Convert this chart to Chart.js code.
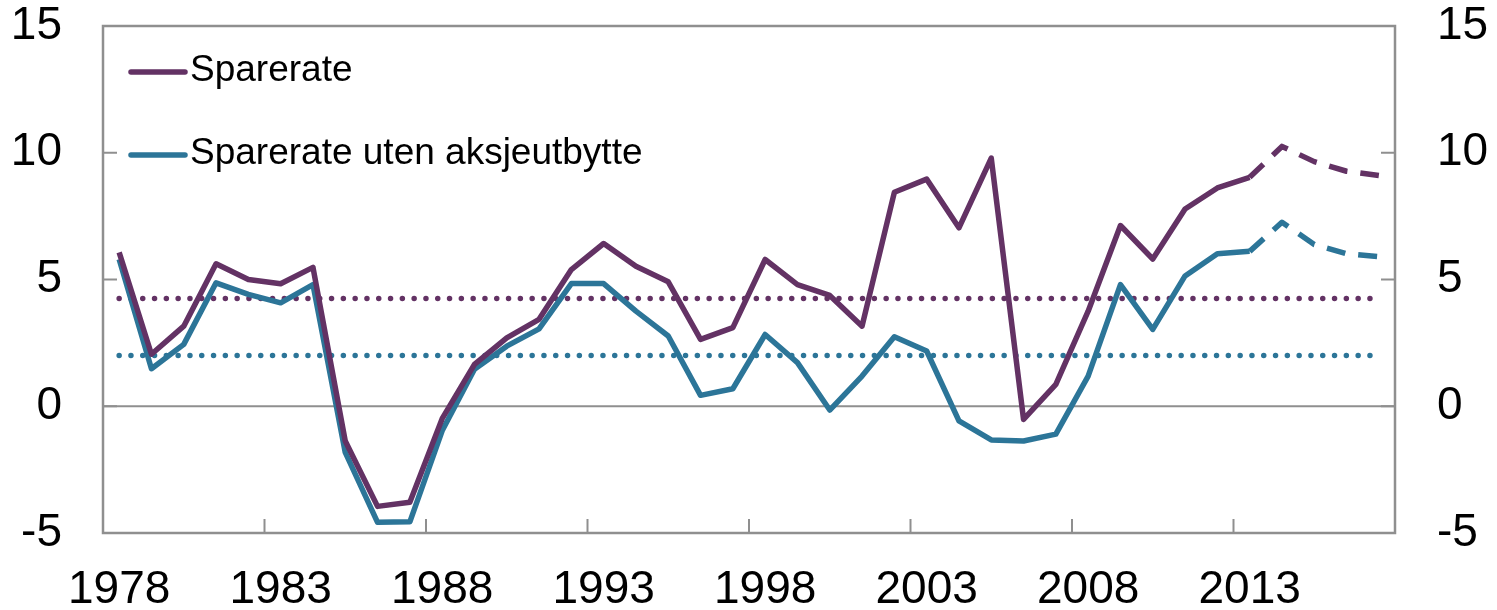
<!DOCTYPE html>
<html lang="no">
<head>
<meta charset="UTF-8">
<title>Sparerate</title>
<script src="https://cdn.jsdelivr.net/npm/chart.js@4.4.1/dist/chart.umd.min.js"></script>
<style>
  body { margin: 0; background: #fff; }
  #wrap { width: 1497px; height: 610px; position: relative; }
</style>
</head>
<body>
<div id="wrap"><canvas id="grafica"></canvas></div>
<script>
// Years on the x axis (2014-2017 are projections, drawn dashed)
const years = ["1978","1979","1980","1981","1982","1983","1984","1985","1986","1987",
  "1988","1989","1990","1991","1992","1993","1994","1995","1996","1997",
  "1998","1999","2000","2001","2002","2003","2004","2005","2006","2007",
  "2008","2009","2010","2011","2012","2013","2014","2015","2016","2017"];

// Saving rate, percent
const sparerate = [6.07, 2.05, 3.16, 5.62, 5.0, 4.83, 5.48, -1.37, -3.95, -3.79,
  -0.49, 1.65, 2.7, 3.43, 5.39, 6.42, 5.52, 4.91, 2.64, 3.1,
  5.79, 4.8, 4.37, 3.16, 8.44, 8.96, 7.04, 9.79, -0.52, 0.86,
  3.75, 7.13, 5.81, 7.78, 8.61, 9.03, 10.25, 9.65, 9.27, 9.1];

// Saving rate excluding share dividends, percent
const utenUtbytte = [5.8, 1.48, 2.44, 4.87, 4.41, 4.08, 4.8, -1.82, -4.58, -4.56,
  -0.97, 1.46, 2.37, 3.05, 4.84, 4.84, 3.75, 2.77, 0.43, 0.69,
  2.83, 1.72, -0.15, 1.19, 2.74, 2.18, -0.58, -1.33, -1.37, -1.1,
  1.19, 4.8, 3.03, 5.14, 6.02, 6.11, 7.26, 6.38, 6.02, 5.9];

// Long-run averages (dotted lines)
const snittSparerate = 4.25;
const snittUten = 2.0;

const yTicks = [-5, 0, 5, 10, 15];
const seriesNames = ["Sparerate", "Sparerate uten aksjeutbytte"];

const lilla = '#633264';
const blaa = '#2c7598';
const grå = '#8f8f8f';
const prognoseFra = years.indexOf("2013"); // dashed from here on
const font = "'Liberation Sans', Arial, sans-serif";

const prognose = ctx => ctx.p0DataIndex >= prognoseFra ? [19, 13] : undefined;

// frame, zero line and inward tick marks
const ramme = {
  id: 'ramme',
  beforeDatasetsDraw(chart) {
    const { ctx, chartArea: a, scales } = chart;
    ctx.save();
    ctx.strokeStyle = grå;
    ctx.lineWidth = 2;
    const ln = (x1, y1, x2, y2) => { ctx.beginPath(); ctx.moveTo(x1, y1); ctx.lineTo(x2, y2); ctx.stroke(); };
    yTicks.forEach(v => {
      const py = scales.y.getPixelForValue(v);
      if (v === 0) ln(a.left, py, a.right, py);
      ln(a.left, py, a.left + 14, py);
      ln(a.right - 14, py, a.right, py);
    });
    const half = (scales.x.getPixelForValue(1) - scales.x.getPixelForValue(0)) / 2;
    years.forEach((yr, i) => {
      if (i % 5 === 0) {
        const px = scales.x.getPixelForValue(i) - half;
        ln(px, a.bottom, px, a.bottom - 14);
      }
    });
    ctx.lineWidth = 2.5;
    ctx.strokeRect(a.left, a.top, a.width, a.height);
    ctx.restore();
  }
};

// legend inside the plot area
const forklaring = {
  id: 'forklaring',
  afterDraw(chart) {
    const { ctx, chartArea: a } = chart;
    ctx.save();
    ctx.font = '37px ' + font;
    ctx.textBaseline = 'middle';
    ctx.fillStyle = '#000';
    [0, 1].forEach(i => {
      const ds = chart.data.datasets[i];
      const y = a.top + 46 + i * 83;
      ctx.strokeStyle = ds.borderColor;
      ctx.lineWidth = 5.5;
      ctx.lineCap = 'round';
      ctx.beginPath();
      ctx.moveTo(a.left + 28, y);
      ctx.lineTo(a.left + 82, y);
      ctx.stroke();
      ctx.fillText(ds.label, a.left + 87, y - 1);
    });
    ctx.restore();
  }
};

// fixed axis sizes so the plot area matches the original
const fastY = w => s => { s.width = w; s.paddingTop = 0; s.paddingBottom = 0; };

const $grafica = document.querySelector('#grafica');
new Chart($grafica, {
  type: 'line',
  data: {
    labels: years,
    datasets: [
      { label: seriesNames[0], data: sparerate, borderColor: lilla, borderWidth: 5.5,
        pointRadius: 0, tension: 0, borderJoinStyle: 'round', segment: { borderDash: prognose } },
      { label: seriesNames[1], data: utenUtbytte, borderColor: blaa, borderWidth: 5.5,
        pointRadius: 0, tension: 0, borderJoinStyle: 'round', segment: { borderDash: prognose } },
      { label: 'snitt1', data: [{ x: years[0], y: snittSparerate }, { x: years[years.length - 1], y: snittSparerate }],
        borderColor: lilla, borderWidth: 5.5, borderDash: [0, 11.8], borderCapStyle: 'round', pointRadius: 0 },
      { label: 'snitt2', data: [{ x: years[0], y: snittUten }, { x: years[years.length - 1], y: snittUten }],
        borderColor: blaa, borderWidth: 5.5, borderDash: [0, 11.8], borderCapStyle: 'round', pointRadius: 0 }
    ]
  },
  options: {
    responsive: true,
    maintainAspectRatio: false,
    animation: false,
    layout: { padding: { top: 26, left: 0, right: 0, bottom: 0 } },
    plugins: { legend: { display: false }, tooltip: { enabled: false } },
    scales: {
      x: {
        type: 'category',
        offset: true,
        grid: { display: false, drawTicks: false },
        border: { display: false },
        ticks: {
          autoSkip: false, maxRotation: 0, padding: 30,
          color: '#000', font: { family: font, size: 46 },
          callback: (v, i) => i % 5 === 0 ? years[i] : ''
        },
        afterFit: s => { s.height = 77; s.paddingLeft = 0; s.paddingRight = 0; }
      },
      y: {
        position: 'left', min: -5, max: 15,
        grid: { display: false, drawTicks: false },
        border: { display: false },
        ticks: { stepSize: 5, padding: 41, color: '#000', font: { family: font, size: 46 } },
        afterFit: fastY(103)
      },
      y2: {
        position: 'right', min: -5, max: 15,
        grid: { display: false, drawTicks: false },
        border: { display: false },
        ticks: { stepSize: 5, padding: 42, color: '#000', font: { family: font, size: 46 } },
        afterFit: fastY(102)
      }
    }
  },
  plugins: [ramme, forklaring]
});
</script>
</body>
</html>
